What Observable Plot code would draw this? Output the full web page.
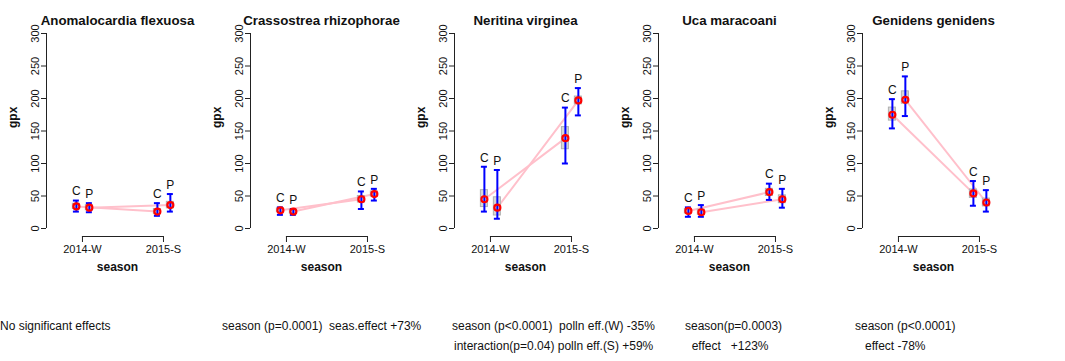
<!DOCTYPE html>
<html>
<head>
<meta charset="utf-8">
<script src="https://cdn.jsdelivr.net/npm/d3@7"></script>
<script src="https://cdn.jsdelivr.net/npm/@observablehq/plot@0.6"></script>
<style>
  html, body { margin: 0; padding: 0; background: white; }
  #wrap { position: relative; width: 1065px; height: 361px; overflow: hidden; }
  #panels { display: flex; flex-direction: row; position: absolute; left: 0; top: 0; }
  .note { position: absolute; font-family: "Liberation Sans", Arial, sans-serif; font-size: 12px; color: #111; white-space: pre; line-height: 14px; }
</style>
</head>
<body>
<div id="wrap">
  <div id="panels"></div>
</div>
<script>
// ---- data ----
const species = ["Anomalocardia flexuosa", "Crassostrea rhizophorae", "Neritina virginea", "Uca maracoani", "Genidens genidens"];
const seasons = ["2014-W", "2015-S"];
const groups = ["C", "P"];
// order within each species: C 2014-W, P 2014-W, C 2015-S, P 2015-S
const means  = [[34, 32, 26, 36], [28, 26, 45, 53], [45, 32, 139, 197], [27, 25, 56, 45], [175, 198, 54, 40]];
const ciLow  = [[26, 25, 19.5, 26], [21, 21, 30, 43], [26, 15, 100, 174], [18, 18, 44, 32], [154, 173, 35, 26]];
const ciHigh = [[43, 39, 39, 53], [32.5, 30, 57, 61], [95, 90, 186, 216], [32.5, 36, 69, 61], [199, 234, 73, 59]];
const seLow  = [[30, 28, 22, 31], [25, 23, 40, 49], [33, 20, 122, 191], [23, 21, 50, 39], [166, 192, 47, 34]];
const seHigh = [[38, 36, 30, 41], [31, 29, 50, 57], [59, 48, 156, 203], [30, 29, 61, 51], [186, 211, 60, 46]];
const yTicks = [0, 50, 100, 150, 200, 250, 300];
const notes = [
  ["No significant effects"],
  ["season (p=0.0001)  seas.effect +73%"],
  ["season (p<0.0001)  polln eff.(W) -35%", "interaction(p=0.04) polln eff.(S) +59%"],
  ["season(p=0.0003)", "  effect   +123%"],
  ["season (p<0.0001)", "   effect -78%"]
];

// ---- layout ----
const FONT = "'Liberation Sans', Arial, Helvetica, sans-serif";
const panelW = 204;
const xDomain = [0.556, 2.309];
const dodge = {C: -0.075, P: 0.085};
const noteLeft = [[0], [222], [452, 454], [685, 685], [855, 855]];
const noteTop = [319, 339];

const panels = document.getElementById("panels");
const wrap = document.getElementById("wrap");

species.forEach((name, s) => {
  const rows = [];
  seasons.forEach((season, si) => {
    groups.forEach((g, gi) => {
      const k = si * 2 + gi;
      rows.push({
        group: g, season: si + 1, x: si + 1 + dodge[g],
        mean: means[s][k], lo: ciLow[s][k], hi: ciHigh[s][k],
        seLo: seLow[s][k], seHi: seHigh[s][k]
      });
    });
  });

  const chart = Plot.plot({
    width: panelW, height: 290,
    marginLeft: 46, marginRight: 16, marginTop: 33, marginBottom: 54,
    style: {fontFamily: FONT, fontSize: "11px", background: "white", color: "#111", overflow: "visible"},
    x: {domain: xDomain},
    y: {domain: [0, 300], insetBottom: 8},
    marks: [
      // y axis line
      Plot.ruleX([xDomain[0]], {y1: () => yTicks[0], y2: () => yTicks[yTicks.length - 1], stroke: "#222"}),
      Plot.axisY({ticks: yTicks, tickSize: 5, tickPadding: 3, tickRotate: -90, label: null, fontSize: 11, stroke: "#222"}),
      // x axis bracket
      Plot.ruleY([0], {x1: () => 1, x2: () => seasons.length, dy: 8, stroke: "#222"}),
      Plot.axisX({ticks: [1, 2], tickFormat: d => seasons[d - 1], tickSize: 6, tickPadding: 3, label: null, fontSize: 11, stroke: "#222"}),
      // connecting lines
      Plot.line(rows, {x: "x", y: "mean", z: "group", stroke: "#ffc0cb", strokeWidth: 2}),
      // SE boxes
      Plot.rect(rows, {x1: "x", x2: "x", y1: "seLo", y2: "seHi", insetLeft: -3.5, insetRight: -3.5, fill: "#d0d0d0", fillOpacity: 0.85, stroke: "#b0b0b0", strokeWidth: 1}),
      // error bars
      Plot.ruleX(rows, {x: "x", y1: "lo", y2: "hi", stroke: "#0000ff", strokeWidth: 2}),
      Plot.ruleY(rows, {x1: "x", x2: "x", y: "lo", insetLeft: -3, insetRight: -3, stroke: "#0000ff", strokeWidth: 2}),
      Plot.ruleY(rows, {x1: "x", x2: "x", y: "hi", insetLeft: -3, insetRight: -3, stroke: "#0000ff", strokeWidth: 2}),
      // means
      Plot.dot(rows, {x: "x", y: "mean", r: 3, stroke: "#ff0000", strokeWidth: 2.2, fill: "none"}),
      // group labels
      Plot.text(rows, {x: "x", y: "hi", text: "group", dy: -9, fontSize: 12, fill: "#111"}),
      // titles
      Plot.text([name], {frameAnchor: "top", dy: -18, fontWeight: "bold", fontSize: 13.3, fill: "#111"}),
      Plot.text(["gpx"], {frameAnchor: "left", dx: -33, dy: -7, rotate: -90, fontWeight: "bold", fontSize: 12, fill: "#111"}),
      Plot.text(["season"], {frameAnchor: "bottom", dy: 34, fontWeight: "bold", fontSize: 12, fill: "#111"})
    ]
  });
  chart.style.flex = "0 0 auto";
  panels.appendChild(chart);

  notes[s].forEach((line, li) => {
    const d = document.createElement("div");
    d.className = "note";
    d.textContent = line;
    d.style.left = noteLeft[s][li] + "px";
    d.style.top = noteTop[li] + "px";
    wrap.appendChild(d);
  });
});
</script>
</body>
</html>
